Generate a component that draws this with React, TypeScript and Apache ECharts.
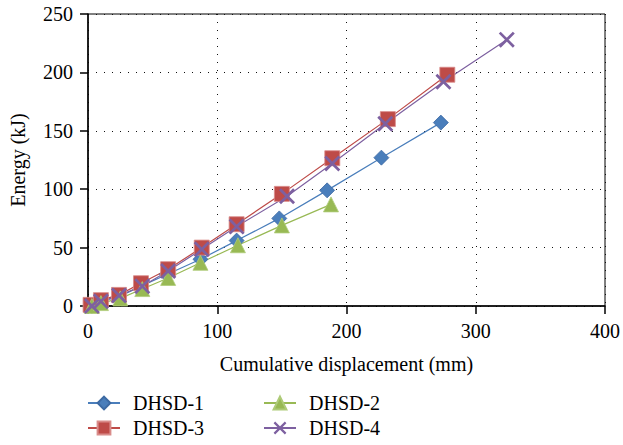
import React, { useEffect, useRef } from "react";
import * as echarts from "echarts";

const d1x = [3, 10, 24, 41, 61, 87, 115, 148, 185, 227, 273];
const d1y = [0, 4, 8, 17, 27, 40, 56, 75, 99, 127, 157];
const d2x = [3, 10, 25, 42, 62, 87, 116, 150, 188];
const d2y = [0, 2.5, 6.5, 14.5, 24, 37, 52, 69, 87];
const d3x = [2, 10, 24, 41, 62, 88, 115, 150, 189, 232, 278];
const d3y = [1, 5, 9.5, 19.5, 31.5, 50, 70, 96, 126.5, 160, 198];
const d4x = [3, 10, 24, 42, 62, 88, 115, 154, 189, 230, 275, 324];
const d4y = [0, 4, 9, 17, 30, 48.5, 68, 94, 122, 156, 192, 228];

const xTicks = [0, 100, 200, 300, 400];
const yTicks = [0, 50, 100, 150, 200, 250];

const FONT = "Liberation Serif";
const FS = 20;
const crossPath = "path://M0,1.2L1.2,0L10,8.8L8.8,10Z M8.8,0L10,1.2L1.2,10L0,8.8Z";

function zip(xs: number[], ys: number[]) {
  return xs.map((x, i) => [x, ys[i]]);
}

export default function App() {
  const ref = useRef<HTMLDivElement>(null);
  useEffect(() => {
    if (!ref.current) return;
    const chart = echarts.init(ref.current, null, { renderer: "svg" });
    const mk = (name: string, xs: number[], ys: number[], color: string, symbol: string, size: number, border: string) => ({
      name,
      type: "line",
      data: zip(xs, ys),
      symbol,
      symbolSize: size,
      showAllSymbol: true,
      lineStyle: { color, width: 1.2 },
      itemStyle: { color, borderColor: border, borderWidth: symbol === crossPath ? 0 : 0.8 },
    });
    const legendItem = (name: string, left: number, top: number) => ({
      data: [name],
      left,
      top,
      padding: 0,
      itemWidth: 32,
      itemHeight: 16,
      textStyle: { fontFamily: FONT, fontSize: FS, color: "#000", padding: [0, 0, 0, 8], lineHeight: 20 },
      selectedMode: false,
    });
    chart.setOption({
      animation: false,
      textStyle: { fontFamily: FONT },
      grid: { left: 87, right: 16, top: 14, bottom: 139, show: true, borderColor: "#000", borderWidth: 1 },
      legend: [
        legendItem("DHSD-1", 87, 393),
        legendItem("DHSD-2", 263, 393),
        legendItem("DHSD-3", 87, 418),
        legendItem("DHSD-4", 263, 418),
      ],
      xAxis: {
        type: "value",
        min: xTicks[0],
        max: xTicks[xTicks.length - 1],
        interval: 100,
        name: "Cumulative displacement (mm)",
        nameLocation: "middle",
        nameGap: 48,
        nameTextStyle: { fontFamily: FONT, fontSize: FS, color: "#000" },
        axisLine: { lineStyle: { color: "#000", width: 1.5 } },
        axisTick: { show: true, length: 8, inside: false, lineStyle: { color: "#000", width: 1.5 } },
        axisLabel: { fontFamily: FONT, fontSize: FS, color: "#000", margin: 15 },
        splitLine: { show: true, lineStyle: { color: "#111", width: 1, type: [1, 7] } },
      },
      yAxis: {
        type: "value",
        min: yTicks[0],
        max: yTicks[yTicks.length - 1],
        interval: 50,
        name: "Energy (kJ)",
        nameLocation: "middle",
        nameGap: 60,
        nameTextStyle: { fontFamily: FONT, fontSize: FS, color: "#000" },
        axisLine: { show: true, lineStyle: { color: "#000", width: 1.5 } },
        axisTick: { show: true, length: 8, inside: false, lineStyle: { color: "#000", width: 1.5 } },
        axisLabel: { fontFamily: FONT, fontSize: FS, color: "#000", margin: 15 },
        splitLine: { show: true, lineStyle: { color: "#111", width: 1, type: [1, 7] } },
      },
      series: [
        mk("DHSD-1", d1x, d1y, "#4a7ebb", "diamond", 15, "#3d6aa3"),
        mk("DHSD-3", d3x, d3y, "#be4b48", "rect", 15, "#d98c8a"),
        mk("DHSD-2", d2x, d2y, "#98b954", "triangle", 15, "#aecb78"),
        mk("DHSD-4", d4x, d4y, "#7d60a0", crossPath, 16, "#7d60a0"),
      ],
    });
    return () => chart.dispose();
  }, []);
  return <div ref={ref} style={{ width: 623, height: 445, position: "absolute", left: 0, top: 0 }} />;
}
